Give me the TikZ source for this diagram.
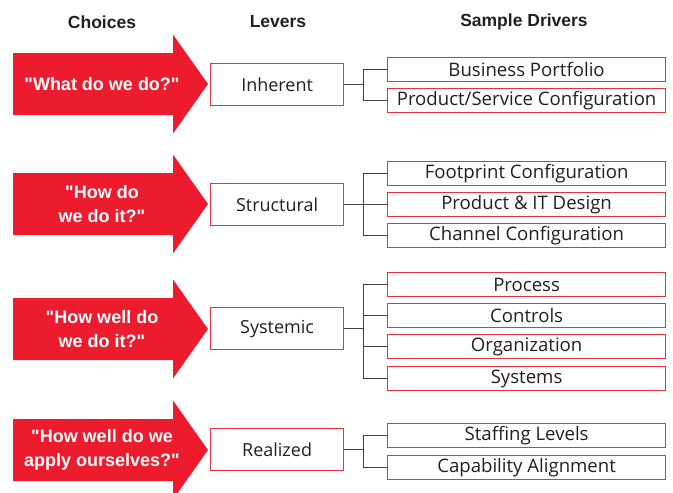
\documentclass[tikz,border=0pt]{standalone}
\usepackage{fontspec}
\setmainfont{Liberation Sans}[Ligatures=TeXOff]
\newfontfamily\drvfont{Open Sans}[Ligatures=TeXOff]
\usetikzlibrary{positioning}
\definecolor{redfill}{HTML}{EC1C2E}
\definecolor{redline}{HTML}{E8303E}
\definecolor{txt}{HTML}{231F20}
\tikzset{
  x=1pt,y=-1pt,
  hdr/.style={font=\bfseries\fontsize{17.5}{20}\selectfont, text=txt, inner sep=0},
  lever/.style={draw=redline, line width=1.2pt, fill=white, minimum width=133pt, minimum height=42pt, inner sep=0, text=txt, font=\drvfont\fontsize{18}{20}\selectfont, anchor=north west},
  driver/.style={draw=redline, line width=1.2pt, fill=white, minimum width=278pt, minimum height=24pt, inner sep=0, text=txt, font=\drvfont\fontsize{18.6}{20}\selectfont, anchor=north west},
  choice/.style={text=white, font=\bfseries\fontsize{18}{24}\selectfont, align=center, inner sep=0},
  conn/.style={draw=txt!85, line width=1pt},
}
\newcommand{\bigarrow}[2]{%
  \fill[redfill] (13,#1-31) -- (173,#1-31) -- (173,#1-49.5) -- (208,#1) -- (173,#1+49.5) -- (173,#1+31) -- (13,#1+31) -- cycle;
  \node[choice] at (102,#1) {#2};
}
\begin{document}
\begin{tikzpicture}
\useasboundingbox (0,0) rectangle (673,493);
% headers
\node[hdr] (h1) at (102,22) {Choices};
\node[hdr] (h2) at (278,22) {Levers};
\node[hdr] (h3) at (524,22) {Sample Drivers};
% arrows
\bigarrow{84}{"What do we do?"}
\bigarrow{204}{"How do\\ we do it?"}
\bigarrow{329}{"How well do\\ we do it?"}
\bigarrow{450}{"How well do we\\ apply ourselves?"}
% levers
\node[lever] (l1) at (210,63) {Inherent};
\node[lever] (l2) at (210,183) {Structural};
\node[lever] (l3) at (210,307) {Systemic};
\node[lever] (l4) at (210,428) {Realized};
% drivers
\node[driver] (d11) at (387,57) {Business Portfolio};
\node[driver] (d12) at (387,88) {Product/Service Configuration};
\node[driver] (d21) at (387,161) {Footprint Configuration};
\node[driver] (d22) at (387,192) {Product \& IT Design};
\node[driver] (d23) at (387,223) {Channel Configuration};
\node[driver] (d31) at (387,272) {Process};
\node[driver] (d32) at (387,303) {Controls};
\node[driver] (d33) at (387,334) {Organization};
\node[driver] (d34) at (387,366) {Systems};
\node[driver] (d41) at (387,423) {Staffing Levels};
\node[driver] (d42) at (387,455) {Capability Alignment};
% connectors
\coordinate (b1) at (363,0);
\draw[conn] (l1.east) -- (l1.east -| b1);
\draw[conn] (d11.west) -| (b1 |- d11.west) |- (d12.west);
\draw[conn] (l2.east) -- (d22.west);
\draw[conn] (d21.west) -| (b1 |- d21.west) |- (d23.west);
\draw[conn] (l3.east) -- (l3.east -| b1);
\draw[conn] (d31.west) -| (b1 |- d31.west) |- (d34.west);
\draw[conn] (b1 |- d32.west) -- (d32.west);
\draw[conn] (b1 |- d33.west) -- (d33.west);
\draw[conn] (l4.east) -- (l4.east -| b1);
\draw[conn] (d41.west) -| (b1 |- d41.west) |- (d42.west);
\end{tikzpicture}
\end{document}
